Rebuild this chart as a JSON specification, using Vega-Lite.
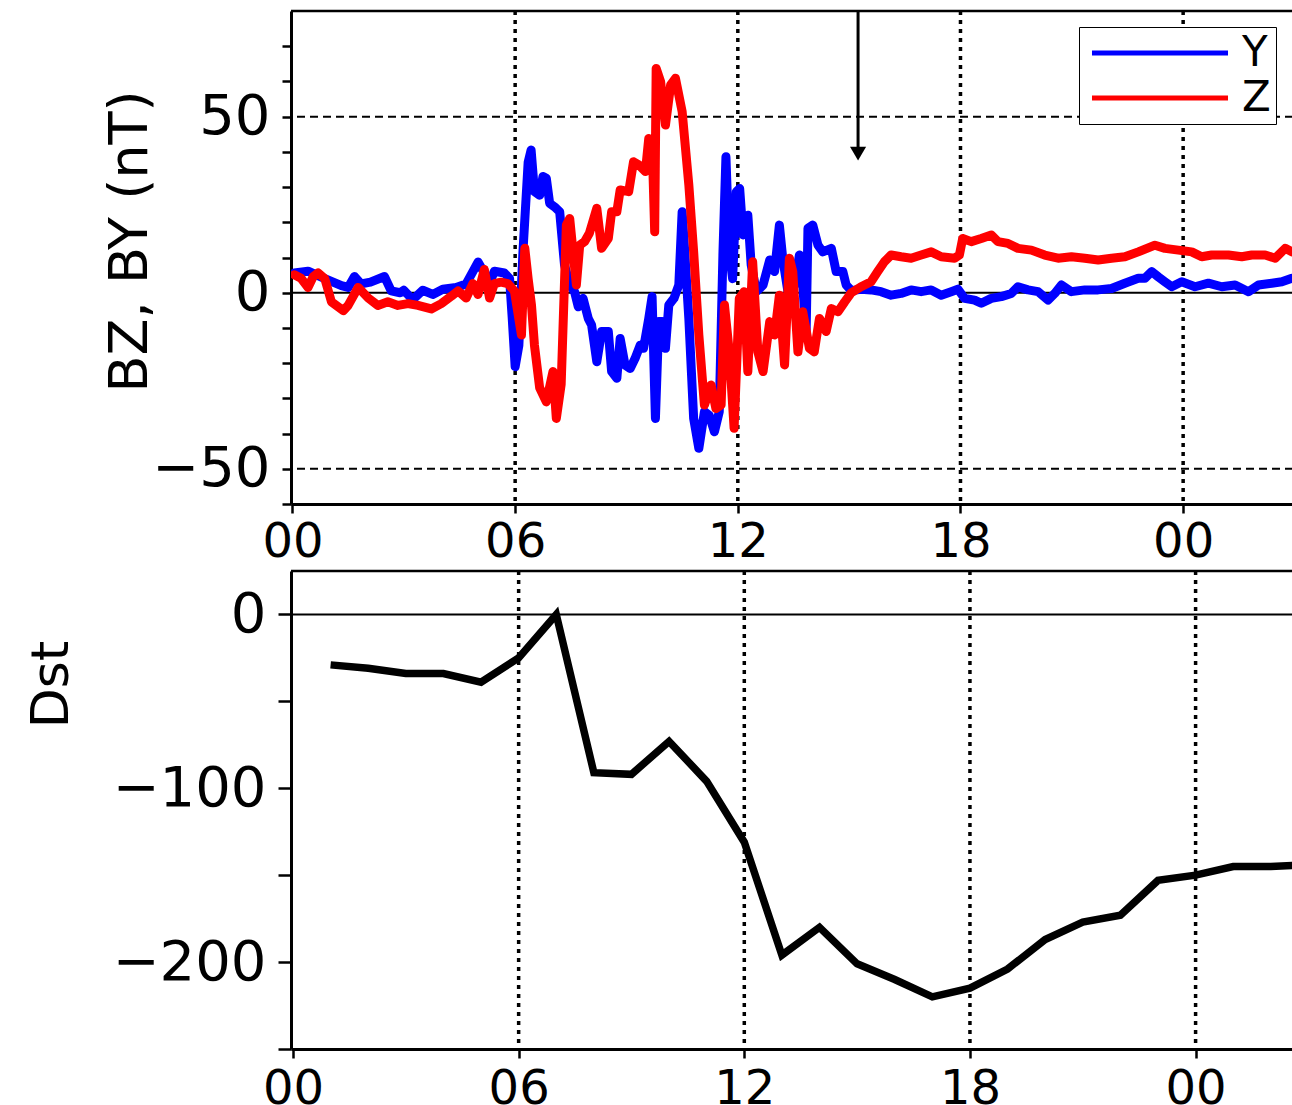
{
  "$schema": "https://vega.github.io/schema/vega-lite/v6.json",
  "padding": {"left": 25, "top": 9, "right": 0, "bottom": 0},
  "background": "white",
  "spacing": 67,
  "bounds": "flush",
  "config": {
    "view": {"stroke": null},
    "font": "DejaVu Sans",
    "axis": {"domainColor": "black", "domainWidth": 3, "tickColor": "black", "tickWidth": 2.5, "labelColor": "black", "titleColor": "black", "grid": false, "labelFont": "DejaVu Sans", "titleFont": "DejaVu Sans", "titleFontWeight": "normal", "labelOverlap": false}
  },
  "datasets": {
    "b": [
      {"t":0.05,"s":"Y","v":5.6},{"t":0.42,"s":"Y","v":6.1},{"t":0.87,"s":"Y","v":4},{"t":1.32,"s":"Y","v":2},{"t":1.5,"s":"Y","v":1.5},{"t":1.67,"s":"Y","v":4.6},{"t":1.85,"s":"Y","v":2.5},{"t":2.1,"s":"Y","v":3},{"t":2.48,"s":"Y","v":4.6},{"t":2.66,"s":"Y","v":0.5},{"t":2.9,"s":"Y","v":0},{"t":3.0,"s":"Y","v":0.7},{"t":3.24,"s":"Y","v":-2},{"t":3.51,"s":"Y","v":0.7},{"t":3.78,"s":"Y","v":-0.5},{"t":4.05,"s":"Y","v":1},{"t":4.41,"s":"Y","v":1.5},{"t":4.68,"s":"Y","v":2.5},{"t":5.0,"s":"Y","v":8.7},{"t":5.17,"s":"Y","v":5.6},{"t":5.26,"s":"Y","v":1.5},{"t":5.44,"s":"Y","v":6.1},{"t":5.71,"s":"Y","v":5.6},{"t":5.85,"s":"Y","v":4},{"t":5.92,"s":"Y","v":-7},{"t":6.0,"s":"Y","v":-21},{"t":6.1,"s":"Y","v":-15},{"t":6.21,"s":"Y","v":11.6},{"t":6.35,"s":"Y","v":37},{"t":6.43,"s":"Y","v":40.5},{"t":6.52,"s":"Y","v":28.7},{"t":6.66,"s":"Y","v":27.7},{"t":6.75,"s":"Y","v":33},{"t":6.84,"s":"Y","v":32.5},{"t":6.93,"s":"Y","v":25.4},{"t":7.06,"s":"Y","v":24.4},{"t":7.2,"s":"Y","v":23},{"t":7.33,"s":"Y","v":7.9},{"t":7.47,"s":"Y","v":2.2},{"t":7.6,"s":"Y","v":0.3},{"t":7.7,"s":"Y","v":-4},{"t":7.83,"s":"Y","v":-1.6},{"t":7.97,"s":"Y","v":-7.3},{"t":8.06,"s":"Y","v":-9.2},{"t":8.2,"s":"Y","v":-19.6},{"t":8.33,"s":"Y","v":-11},{"t":8.51,"s":"Y","v":-11},{"t":8.6,"s":"Y","v":-22.4},{"t":8.74,"s":"Y","v":-24.3},{"t":8.83,"s":"Y","v":-13},{"t":8.96,"s":"Y","v":-20.5},{"t":9.1,"s":"Y","v":-21.5},{"t":9.23,"s":"Y","v":-18.7},{"t":9.37,"s":"Y","v":-14.9},{"t":9.46,"s":"Y","v":-15.8},{"t":9.6,"s":"Y","v":-7.3},{"t":9.69,"s":"Y","v":-1.1},{"t":9.78,"s":"Y","v":-35.7},{"t":9.87,"s":"Y","v":-8.2},{"t":9.96,"s":"Y","v":-8.2},{"t":10.05,"s":"Y","v":-15.8},{"t":10.14,"s":"Y","v":-3.5},{"t":10.28,"s":"Y","v":-1.6},{"t":10.41,"s":"Y","v":2.2},{"t":10.5,"s":"Y","v":23},{"t":10.57,"s":"Y","v":11.6},{"t":10.68,"s":"Y","v":-7.3},{"t":10.81,"s":"Y","v":-35.7},{"t":10.95,"s":"Y","v":-44.2},{"t":11.1,"s":"Y","v":-33.8},{"t":11.23,"s":"Y","v":-34.8},{"t":11.37,"s":"Y","v":-39.5},{"t":11.5,"s":"Y","v":-33.8},{"t":11.6,"s":"Y","v":11.6},{"t":11.68,"s":"Y","v":38.6},{"t":11.77,"s":"Y","v":11.6},{"t":11.86,"s":"Y","v":4},{"t":11.96,"s":"Y","v":28.7},{"t":12.05,"s":"Y","v":29.6},{"t":12.14,"s":"Y","v":16.4},{"t":12.27,"s":"Y","v":22},{"t":12.36,"s":"Y","v":7.9},{"t":12.5,"s":"Y","v":0.3},{"t":12.68,"s":"Y","v":2.2},{"t":12.86,"s":"Y","v":9.3},{"t":12.99,"s":"Y","v":6},{"t":13.12,"s":"Y","v":19.2},{"t":13.21,"s":"Y","v":9.8},{"t":13.35,"s":"Y","v":0.3},{"t":13.53,"s":"Y","v":2.2},{"t":13.66,"s":"Y","v":10.7},{"t":13.75,"s":"Y","v":2.2},{"t":13.84,"s":"Y","v":-12},{"t":13.89,"s":"Y","v":18.3},{"t":14.02,"s":"Y","v":19.2},{"t":14.16,"s":"Y","v":13.5},{"t":14.29,"s":"Y","v":11.6},{"t":14.52,"s":"Y","v":12.6},{"t":14.65,"s":"Y","v":6},{"t":14.83,"s":"Y","v":6},{"t":14.92,"s":"Y","v":2.2},{"t":15.06,"s":"Y","v":0.6},{"t":15.32,"s":"Y","v":1},{"t":15.59,"s":"Y","v":0.8},{"t":15.86,"s":"Y","v":0.3},{"t":16.13,"s":"Y","v":-0.7},{"t":16.4,"s":"Y","v":-0.2},{"t":16.67,"s":"Y","v":0.8},{"t":16.94,"s":"Y","v":0.3},{"t":17.21,"s":"Y","v":0.8},{"t":17.48,"s":"Y","v":-0.7},{"t":17.75,"s":"Y","v":0.3},{"t":17.93,"s":"Y","v":1},{"t":18.11,"s":"Y","v":-1.6},{"t":18.38,"s":"Y","v":-2.1},{"t":18.56,"s":"Y","v":-3},{"t":18.83,"s":"Y","v":-1.6},{"t":19.1,"s":"Y","v":-1.1},{"t":19.37,"s":"Y","v":-0.2},{"t":19.55,"s":"Y","v":1.7},{"t":19.82,"s":"Y","v":0.8},{"t":20.09,"s":"Y","v":0.3},{"t":20.36,"s":"Y","v":-2.1},{"t":20.54,"s":"Y","v":-0.2},{"t":20.72,"s":"Y","v":2.2},{"t":20.99,"s":"Y","v":0.3},{"t":21.35,"s":"Y","v":0.8},{"t":21.71,"s":"Y","v":0.8},{"t":22.07,"s":"Y","v":1.2},{"t":22.43,"s":"Y","v":2.7},{"t":22.79,"s":"Y","v":4.1},{"t":22.97,"s":"Y","v":4.1},{"t":23.15,"s":"Y","v":6},{"t":23.33,"s":"Y","v":4.5},{"t":23.51,"s":"Y","v":3.1},{"t":23.69,"s":"Y","v":1.7},{"t":23.96,"s":"Y","v":3.1},{"t":24.32,"s":"Y","v":1.7},{"t":24.68,"s":"Y","v":2.7},{"t":25.04,"s":"Y","v":1.7},{"t":25.4,"s":"Y","v":2.2},{"t":25.76,"s":"Y","v":0.3},{"t":26.03,"s":"Y","v":2.2},{"t":26.39,"s":"Y","v":2.7},{"t":26.66,"s":"Y","v":3.1},{"t":26.93,"s":"Y","v":4.1},
      {"t":0.05,"s":"Z","v":5.1},{"t":0.23,"s":"Z","v":4.1},{"t":0.42,"s":"Z","v":1.5},{"t":0.56,"s":"Z","v":4.6},{"t":0.69,"s":"Z","v":5.6},{"t":0.87,"s":"Z","v":4},{"t":1.05,"s":"Z","v":-2.6},{"t":1.37,"s":"Z","v":-5.1},{"t":1.5,"s":"Z","v":-3.6},{"t":1.77,"s":"Z","v":1.5},{"t":2.04,"s":"Z","v":-1.5},{"t":2.3,"s":"Z","v":-3.6},{"t":2.57,"s":"Z","v":-2.6},{"t":2.84,"s":"Z","v":-3.6},{"t":3.11,"s":"Z","v":-3.1},{"t":3.38,"s":"Z","v":-3.6},{"t":3.74,"s":"Z","v":-4.6},{"t":4.01,"s":"Z","v":-3.1},{"t":4.28,"s":"Z","v":-1},{"t":4.46,"s":"Z","v":0.5},{"t":4.68,"s":"Z","v":-1.5},{"t":4.86,"s":"Z","v":2.6},{"t":5.0,"s":"Z","v":-0.5},{"t":5.17,"s":"Z","v":6.6},{"t":5.31,"s":"Z","v":-1.5},{"t":5.44,"s":"Z","v":2.6},{"t":5.62,"s":"Z","v":3},{"t":5.8,"s":"Z","v":2.6},{"t":5.98,"s":"Z","v":0.5},{"t":6.17,"s":"Z","v":-12},{"t":6.26,"s":"Z","v":12.6},{"t":6.35,"s":"Z","v":4},{"t":6.44,"s":"Z","v":-3.5},{"t":6.52,"s":"Z","v":-14.9},{"t":6.66,"s":"Z","v":-27},{"t":6.84,"s":"Z","v":-31},{"t":7.02,"s":"Z","v":-22.4},{"t":7.11,"s":"Z","v":-35.7},{"t":7.24,"s":"Z","v":-26},{"t":7.38,"s":"Z","v":19.2},{"t":7.47,"s":"Z","v":21.1},{"t":7.56,"s":"Z","v":11.6},{"t":7.65,"s":"Z","v":2.2},{"t":7.74,"s":"Z","v":13.5},{"t":7.87,"s":"Z","v":14.5},{"t":8.0,"s":"Z","v":16.9},{"t":8.2,"s":"Z","v":24},{"t":8.33,"s":"Z","v":12.6},{"t":8.51,"s":"Z","v":15.4},{"t":8.6,"s":"Z","v":23},{"t":8.74,"s":"Z","v":23},{"t":8.83,"s":"Z","v":29.2},{"t":9.06,"s":"Z","v":28.7},{"t":9.19,"s":"Z","v":37.2},{"t":9.33,"s":"Z","v":36.3},{"t":9.51,"s":"Z","v":34.4},{"t":9.6,"s":"Z","v":43.8},{"t":9.69,"s":"Z","v":42.9},{"t":9.76,"s":"Z","v":17.3},{"t":9.8,"s":"Z","v":63.7},{"t":9.92,"s":"Z","v":59.9},{"t":10.05,"s":"Z","v":47.6},{"t":10.19,"s":"Z","v":59},{"t":10.32,"s":"Z","v":60.9},{"t":10.5,"s":"Z","v":51.4},{"t":10.68,"s":"Z","v":30.6},{"t":10.81,"s":"Z","v":11.6},{"t":10.95,"s":"Z","v":-12},{"t":11.1,"s":"Z","v":-31.9},{"t":11.28,"s":"Z","v":-26.2},{"t":11.41,"s":"Z","v":-32.9},{"t":11.55,"s":"Z","v":-31.9},{"t":11.64,"s":"Z","v":-3.5},{"t":11.77,"s":"Z","v":-16.8},{"t":11.9,"s":"Z","v":-38.5},{"t":12.04,"s":"Z","v":-1.6},{"t":12.17,"s":"Z","v":0.3},{"t":12.27,"s":"Z","v":-22.4},{"t":12.4,"s":"Z","v":8.8},{"t":12.54,"s":"Z","v":-16.8},{"t":12.68,"s":"Z","v":-22.4},{"t":12.86,"s":"Z","v":-8.2},{"t":12.99,"s":"Z","v":-12},{"t":13.12,"s":"Z","v":-0.7},{"t":13.26,"s":"Z","v":-20.5},{"t":13.39,"s":"Z","v":9.8},{"t":13.48,"s":"Z","v":6},{"t":13.62,"s":"Z","v":-16.8},{"t":13.75,"s":"Z","v":-5.4},{"t":13.93,"s":"Z","v":-15.8},{"t":14.06,"s":"Z","v":-16.8},{"t":14.2,"s":"Z","v":-7.3},{"t":14.38,"s":"Z","v":-11},{"t":14.52,"s":"Z","v":-4.5},{"t":14.7,"s":"Z","v":-5.4},{"t":14.88,"s":"Z","v":-2.6},{"t":15.06,"s":"Z","v":0},{"t":15.32,"s":"Z","v":1.7},{"t":15.59,"s":"Z","v":3.1},{"t":15.77,"s":"Z","v":6},{"t":15.95,"s":"Z","v":8.8},{"t":16.13,"s":"Z","v":10.7},{"t":16.4,"s":"Z","v":10.2},{"t":16.67,"s":"Z","v":9.8},{"t":16.94,"s":"Z","v":10.7},{"t":17.21,"s":"Z","v":11.6},{"t":17.48,"s":"Z","v":10.2},{"t":17.84,"s":"Z","v":9.8},{"t":17.97,"s":"Z","v":10.7},{"t":18.06,"s":"Z","v":15.4},{"t":18.29,"s":"Z","v":14.5},{"t":18.56,"s":"Z","v":15.4},{"t":18.83,"s":"Z","v":16.4},{"t":19.01,"s":"Z","v":14.5},{"t":19.28,"s":"Z","v":14},{"t":19.55,"s":"Z","v":12.6},{"t":19.91,"s":"Z","v":12.1},{"t":20.27,"s":"Z","v":10.7},{"t":20.63,"s":"Z","v":9.8},{"t":20.99,"s":"Z","v":10.2},{"t":21.35,"s":"Z","v":9.8},{"t":21.71,"s":"Z","v":9.3},{"t":22.07,"s":"Z","v":9.8},{"t":22.43,"s":"Z","v":10.2},{"t":22.79,"s":"Z","v":11.6},{"t":23.24,"s":"Z","v":13.5},{"t":23.51,"s":"Z","v":12.6},{"t":23.87,"s":"Z","v":12.1},{"t":24.23,"s":"Z","v":11.6},{"t":24.5,"s":"Z","v":10.2},{"t":24.77,"s":"Z","v":10.7},{"t":25.22,"s":"Z","v":10.7},{"t":25.58,"s":"Z","v":10.2},{"t":25.85,"s":"Z","v":10.7},{"t":26.21,"s":"Z","v":10.7},{"t":26.48,"s":"Z","v":9.8},{"t":26.75,"s":"Z","v":12.6},{"t":26.93,"s":"Z","v":11.6}
    ],
    "dst": [
      {"t":1,"v":-29},{"t":2,"v":-31},{"t":3,"v":-34},{"t":4,"v":-34},{"t":5,"v":-39},{"t":6,"v":-25},{"t":7,"v":0},{"t":8,"v":-91},{"t":9,"v":-92},{"t":10,"v":-73},{"t":11,"v":-96},{"t":12,"v":-131},{"t":13,"v":-196},{"t":14,"v":-180},{"t":15,"v":-201},{"t":16,"v":-210},{"t":17,"v":-220},{"t":18,"v":-215},{"t":19,"v":-204},{"t":20,"v":-187},{"t":21,"v":-177},{"t":22,"v":-173},{"t":23,"v":-153},{"t":24,"v":-150},{"t":25,"v":-145},{"t":26,"v":-145},{"t":27,"v":-144}
    ],
    "vgrid": [{"t":6},{"t":12},{"t":18},{"t":24}],
    "hdash": [{"v":50},{"v":-50}],
    "topzero": [{"v":0}],
    "topframe": [{"v":80}],
    "botzero": [{"v":0}],
    "botframe": [{"v":25}],
    "arrow": [{"t":15.24,"v":80,"v2":41}],
    "arrowhead": [{"t":15.24,"v":39.5}]
  },
  "vconcat": [
    {
      "width": 1002,
      "height": 493,
      "layer": [
        {
          "data": {"name": "vgrid"},
          "mark": {"type": "rule", "color": "black", "strokeWidth": 3.5, "strokeDash": [4, 5]},
          "encoding": {
            "x": {"field": "t", "type": "quantitative", "scale": {"domain": [-0.04, 26.96], "nice": false, "zero": false},
                  "axis": {"values": [0, 6, 12, 18, 24], "tickCount": 20, "labelExpr": "(datum.value % 24 < 10 ? '0' : '') + (datum.value % 24)", "title": null, "tickSize": 9, "labelPadding": 5, "labelFontSize": 48, "labelFlush": false, "labelOverlap": false}}
          }
        },
        {
          "data": {"name": "hdash"},
          "mark": {"type": "rule", "color": "black", "strokeWidth": 2, "strokeDash": [8, 5]},
          "encoding": {
            "y": {"field": "v", "type": "quantitative", "scale": {"domain": [-60, 80], "nice": false, "zero": false},
                  "axis": {"values": [-60, -50, -40, -30, -20, -10, 0, 10, 20, 30, 40, 50, 60, 70], "tickCount": 20, "labelExpr": "datum.value % 50 === 0 ? datum.label : ''", "title": "BZ, BY (nT)", "titleFontSize": 54, "titleX": -161, "titleY": 230, "titleBaseline": "middle", "tickSize": 9, "labelPadding": 12, "labelFontSize": 56, "labelBaseline": "middle", "labelOverlap": false}}
          }
        },
        {
          "data": {"name": "topzero"},
          "mark": {"type": "rule", "color": "black", "strokeWidth": 2},
          "encoding": {
            "y": {"field": "v", "type": "quantitative", "scale": {"domain": [-60, 80], "nice": false, "zero": false},
                  "axis": {"values": [-60, -50, -40, -30, -20, -10, 0, 10, 20, 30, 40, 50, 60, 70], "tickCount": 20, "labelExpr": "datum.value % 50 === 0 ? datum.label : ''", "title": "BZ, BY (nT)", "titleFontSize": 54, "titleX": -161, "titleY": 230, "titleBaseline": "middle", "tickSize": 9, "labelPadding": 12, "labelFontSize": 56, "labelBaseline": "middle", "labelOverlap": false}}
          }
        },
        {
          "data": {"name": "topframe"},
          "mark": {"type": "rule", "color": "black", "strokeWidth": 2.5},
          "encoding": {
            "y": {"field": "v", "type": "quantitative", "scale": {"domain": [-60, 80], "nice": false, "zero": false},
                  "axis": {"values": [-60, -50, -40, -30, -20, -10, 0, 10, 20, 30, 40, 50, 60, 70], "tickCount": 20, "labelExpr": "datum.value % 50 === 0 ? datum.label : ''", "title": "BZ, BY (nT)", "titleFontSize": 54, "titleX": -161, "titleY": 230, "titleBaseline": "middle", "tickSize": 9, "labelPadding": 12, "labelFontSize": 56, "labelBaseline": "middle", "labelOverlap": false}}
          }
        },
        {
          "data": {"name": "b"},
          "mark": {"type": "line", "strokeWidth": 9, "strokeJoin": "round", "strokeCap": "round", "clip": true},
          "encoding": {
            "x": {"field": "t", "type": "quantitative", "scale": {"domain": [-0.04, 26.96], "nice": false, "zero": false},
                  "axis": {"values": [0, 6, 12, 18, 24], "tickCount": 20, "labelExpr": "(datum.value % 24 < 10 ? '0' : '') + (datum.value % 24)", "title": null, "tickSize": 9, "labelPadding": 5, "labelFontSize": 48, "labelFlush": false, "labelOverlap": false}},
            "y": {"field": "v", "type": "quantitative", "scale": {"domain": [-60, 80], "nice": false, "zero": false},
                  "axis": {"values": [-60, -50, -40, -30, -20, -10, 0, 10, 20, 30, 40, 50, 60, 70], "tickCount": 20, "labelExpr": "datum.value % 50 === 0 ? datum.label : ''", "title": "BZ, BY (nT)", "titleFontSize": 54, "titleX": -161, "titleY": 230, "titleBaseline": "middle", "tickSize": 9, "labelPadding": 12, "labelFontSize": 56, "labelBaseline": "middle", "labelOverlap": false}},
            "color": {"field": "s", "type": "nominal", "scale": {"domain": ["Y", "Z"], "range": ["#0000ff", "#ff0000"]},
                      "legend": {"title": null, "orient": "none", "legendX": 788, "legendY": 16, "symbolType": "M-5,0L5,0", "symbolSize": 740, "symbolStrokeWidth": 5, "symbolOffset": 55, "labelOffset": 61, "labelFontSize": 42, "labelFont": "DejaVu Sans", "labelColor": "black", "strokeColor": "black", "fillColor": "white", "padding": 5, "rowPadding": 3}}
          }
        },
        {
          "data": {"name": "arrow"},
          "mark": {"type": "rule", "color": "black", "strokeWidth": 3},
          "encoding": {
            "x": {"field": "t", "type": "quantitative"},
            "y": {"field": "v", "type": "quantitative"},
            "y2": {"field": "v2"}
          }
        },
        {
          "data": {"name": "arrowhead"},
          "mark": {"type": "point", "shape": "triangle-down", "filled": true, "color": "black", "opacity": 1, "size": 260},
          "encoding": {
            "x": {"field": "t", "type": "quantitative"},
            "y": {"field": "v", "type": "quantitative"}
          }
        }
      ]
    },
    {
      "width": 1002,
      "height": 478,
      "layer": [
        {
          "data": {"name": "vgrid"},
          "mark": {"type": "rule", "color": "black", "strokeWidth": 3.5, "strokeDash": [4, 5]},
          "encoding": {
            "x": {"field": "t", "type": "quantitative", "scale": {"domain": [-0.053, 26.59], "nice": false, "zero": false},
                  "axis": {"values": [0, 6, 12, 18, 24], "tickCount": 20, "labelExpr": "(datum.value % 24 < 10 ? '0' : '') + (datum.value % 24)", "title": null, "tickSize": 9, "labelPadding": 7, "labelFontSize": 48, "labelFlush": false, "labelOverlap": false}}
          }
        },
        {
          "data": {"name": "botzero"},
          "mark": {"type": "rule", "color": "black", "strokeWidth": 2},
          "encoding": {
            "y": {"field": "v", "type": "quantitative", "scale": {"domain": [-250, 25], "nice": false, "zero": false},
                  "axis": {"values": [-250, -200, -150, -100, -50, 0], "tickCount": 20, "labelExpr": "datum.value % 100 === 0 ? datum.label : ''", "title": "Dst", "titleFontSize": 52, "titleX": -240, "titleY": 113, "titleBaseline": "middle", "tickSize": 13, "labelPadding": 12, "labelFontSize": 56, "labelBaseline": "middle", "labelOverlap": false}}
          }
        },
        {
          "data": {"name": "botframe"},
          "mark": {"type": "rule", "color": "black", "strokeWidth": 2.5},
          "encoding": {
            "y": {"field": "v", "type": "quantitative", "scale": {"domain": [-250, 25], "nice": false, "zero": false},
                  "axis": {"values": [-250, -200, -150, -100, -50, 0], "tickCount": 20, "labelExpr": "datum.value % 100 === 0 ? datum.label : ''", "title": "Dst", "titleFontSize": 52, "titleX": -240, "titleY": 113, "titleBaseline": "middle", "tickSize": 13, "labelPadding": 12, "labelFontSize": 56, "labelBaseline": "middle", "labelOverlap": false}}
          }
        },
        {
          "data": {"name": "dst"},
          "mark": {"type": "line", "color": "black", "strokeWidth": 7.5, "strokeJoin": "miter", "clip": true},
          "encoding": {
            "x": {"field": "t", "type": "quantitative", "scale": {"domain": [-0.053, 26.59], "nice": false, "zero": false},
                  "axis": {"values": [0, 6, 12, 18, 24], "tickCount": 20, "labelExpr": "(datum.value % 24 < 10 ? '0' : '') + (datum.value % 24)", "title": null, "tickSize": 9, "labelPadding": 7, "labelFontSize": 48, "labelFlush": false, "labelOverlap": false}},
            "y": {"field": "v", "type": "quantitative", "scale": {"domain": [-250, 25], "nice": false, "zero": false},
                  "axis": {"values": [-250, -200, -150, -100, -50, 0], "tickCount": 20, "labelExpr": "datum.value % 100 === 0 ? datum.label : ''", "title": "Dst", "titleFontSize": 52, "titleX": -240, "titleY": 113, "titleBaseline": "middle", "tickSize": 13, "labelPadding": 12, "labelFontSize": 56, "labelBaseline": "middle", "labelOverlap": false}}
          }
        }
      ]
    }
  ]
}
